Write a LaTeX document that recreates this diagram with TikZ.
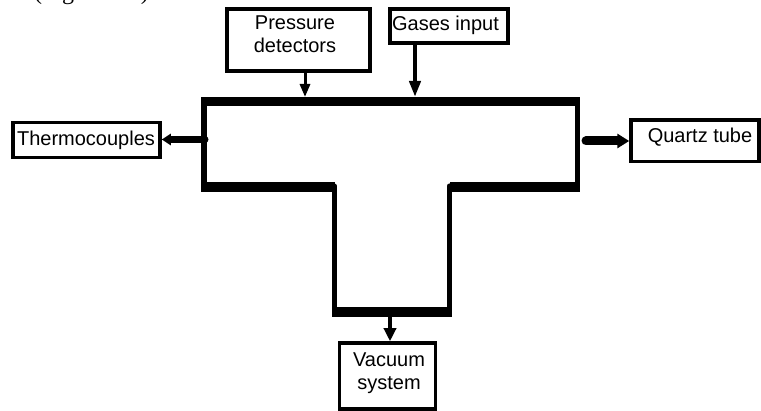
\documentclass[tikz,border=0pt]{standalone}
\usepackage{fontspec}
\setmainfont{Liberation Sans}
\newfontfamily\bodyserif{Liberation Serif}
\usetikzlibrary{arrows.meta}
\begin{document}
\begin{tikzpicture}[x=1pt,y=-1pt,
  box/.style={draw=black,line width=3.5pt,inner sep=0pt,fill=white},
  lbl/.style={inner sep=0pt,font=\fontsize{20}{23}\selectfont,align=center},
  wallfill/.style={fill=black},
  thinarrow/.style={line width=#1,-{Triangle[length=12pt,width=11pt]}},
  fatarrow/.style={line width=#1,line cap=round,-{Triangle[length=11pt,width=13pt]}}
]
\useasboundingbox (0,0) rectangle (761,411);

% cut-off caption fragment
\node[anchor=base west,inner sep=0pt,font=\bodyserif\fontsize{24}{28}\selectfont] (frag) at (34,0) {(Figure 2.1)};

% boxes
\node[box,minimum width=143pt,minimum height=62pt] (press) at (298.5,40) {};
\node[box,minimum width=118pt,minimum height=34pt] (gases) at (449,26) {};
\node[box,minimum width=147pt,minimum height=35pt] (thermo) at (86.5,140) {};
\node[box,minimum width=128pt,minimum height=41.5pt] (quartz) at (695,140.75) {};
\node[box,minimum width=96pt,minimum height=66pt] (vac) at (387.5,376) {};

% labels
\node[lbl] (pressT) at (295,34) {Pressure\\detectors};
\node[lbl,anchor=base] (gasesT) at (445.5,31) {Gases input};
\node[lbl,anchor=base] (thermoT) at (86,146) {Thermocouples};
\node[lbl,anchor=base] (quartzT) at (700,143) {Quartz tube};
\node[lbl] (vacT) at (389,373.5) {Vacuum\\system};

% connection points on the chamber
\coordinate (pA) at (305,97);
\coordinate (gA) at (415,97);
\coordinate (tA) at (205,139.5);
\coordinate (qA) at (586,141);
\coordinate (vA) at (390,317);

% arrows
\draw[line width=3pt,-{Triangle[length=13pt,width=10pt]}] (press.south -| pA) -- (pA);
\draw[line width=4pt,-{Triangle[length=16pt,width=11pt]}] (gases.south -| gA) -- (gA);
\draw[line width=7pt,line cap=round,-{Triangle[length=9pt,width=11pt]}] (tA) -- (thermo.east |- tA);
\draw[line width=9pt,line cap=round,-{Triangle[length=12pt,width=14pt]}] (qA) -- (quartz.west |- qA);
\draw[line width=4pt,-{Triangle[length=13pt,width=12pt]}] (vA) -- (vac.north -| vA);

% T-shaped chamber
\fill[wallfill] (201,97) rectangle (580,106);     % top
\fill[wallfill] (201,97) rectangle (207,192);     % left wall
\fill[wallfill] (575,97) rectangle (580,192);     % right wall
\fill[wallfill] (201,182) rectangle (335,192);    % bottom left
\fill[wallfill] (450,182) rectangle (580,192);    % bottom right
\draw[line width=5pt,line cap=round] (334.2,186) -- (334.2,312); % stem left
\draw[line width=5pt,line cap=round] (449.2,186) -- (449.2,312); % stem right
\fill[wallfill] (331.7,307) rectangle (451.7,317); % stem bottom
\end{tikzpicture}
\end{document}
